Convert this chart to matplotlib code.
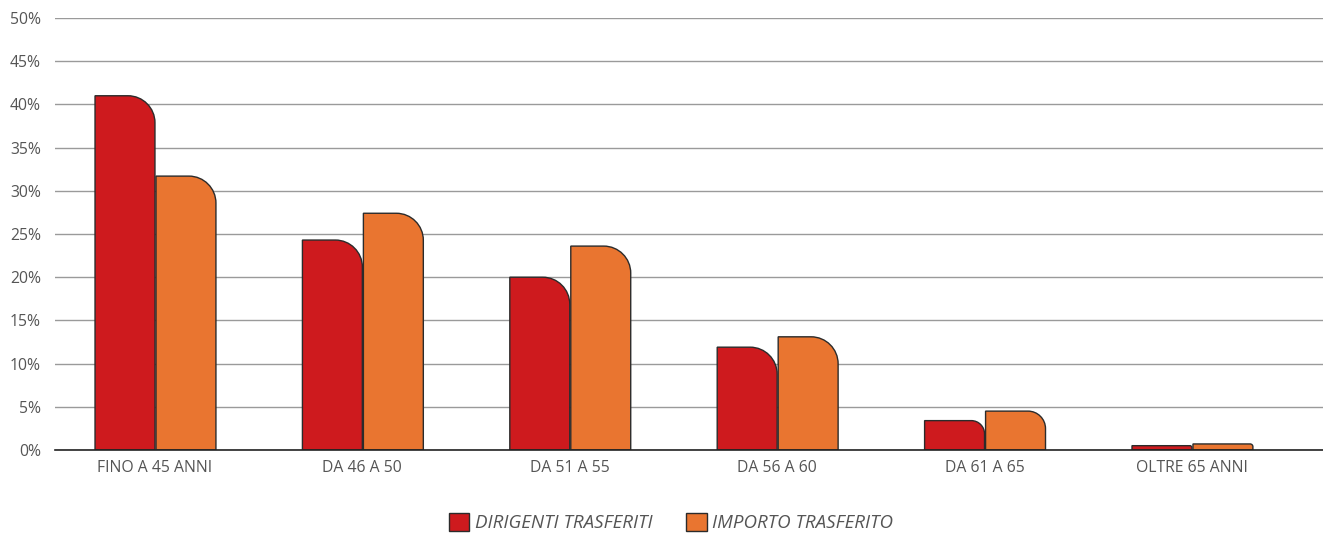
import matplotlib.pyplot as plt
from matplotlib.path import Path
from matplotlib.patches import PathPatch, Patch

categories = ['FINO A 45 ANNI', 'DA 46 A 50', 'DA 51 A 55', 'DA 56 A 60', 'DA 61 A 65', 'OLTRE 65 ANNI']
dirigenti = [41.0, 24.3, 20.0, 11.9, 3.4, 0.5]
importo = [31.7, 27.4, 23.6, 13.1, 4.5, 0.7]
series_names = ['DIRIGENTI TRASFERITI', 'IMPORTO TRASFERITO']
yticks = [0, 5, 10, 15, 20, 25, 30, 35, 40, 45, 50]

RED = '#ce1a1e'
ORANGE = '#e97530'
EDGE = '#2b2b2b'
TEXT = '#555555'

plt.rcParams['font.family'] = ['Open Sans', 'DejaVu Sans']

W, H = 1323, 533
fig = plt.figure(figsize=(W / 100, H / 100), dpi=100)
ax = fig.add_axes([55 / W, (H - 450) / H, 1268 / W, 432 / H])

x_lo, x_hi = -0.482, 5.632
ax.set_xlim(x_lo, x_hi)
ax.set_ylim(0, 50)
px_x = 1268 / (x_hi - x_lo)
px_y = 432 / 50

bar_w = 0.289
K = 0.5523


def rounded_bar(x0, h, color):
    # bar with rounded top-right corner, radius given in pixels
    h_px = h * px_y
    r = min(27, h_px * 0.45)
    rx = r / px_x
    ry = r / px_y
    x1 = x0 + bar_w
    verts = [
        (x0, 0), (x0, h), (x1 - rx, h),
        (x1 - rx + K * rx, h), (x1, h - ry + K * ry), (x1, h - ry),
        (x1, 0), (x0, 0),
    ]
    codes = [Path.MOVETO, Path.LINETO, Path.LINETO,
             Path.CURVE4, Path.CURVE4, Path.CURVE4,
             Path.LINETO, Path.CLOSEPOLY]
    patch = PathPatch(Path(verts, codes), facecolor=color, edgecolor=EDGE,
                      linewidth=1.0, zorder=3)
    ax.add_patch(patch)


for i in range(len(categories)):
    rounded_bar(i - bar_w, dirigenti[i], RED)
    rounded_bar(i + 0.005, importo[i], ORANGE)

ax.set_yticks(yticks)
ax.set_yticklabels([f'{v}%' for v in yticks])
ax.set_xticks(range(len(categories)))
ax.set_xticklabels(categories)
ax.tick_params(axis='both', length=0, labelsize=11.3, labelcolor=TEXT)
ax.tick_params(axis='y', pad=10)
ax.tick_params(axis='x', pad=7)

ax.yaxis.grid(True, color='#9a9a9a', linewidth=1.0)
ax.set_axisbelow(True)
for s in ['top', 'right', 'left']:
    ax.spines[s].set_visible(False)
ax.spines['bottom'].set_color('#222222')
ax.spines['bottom'].set_linewidth(1.2)
ax.spines['bottom'].set_zorder(4)

handles = [Patch(facecolor=RED, edgecolor=EDGE), Patch(facecolor=ORANGE, edgecolor=EDGE)]
leg = fig.legend(handles, series_names, loc='upper center', bbox_to_anchor=(671 / W, 1 - 498 / H),
                 ncol=2, frameon=False, prop={'style': 'italic', 'size': 13.5},
                 handlelength=1.1, handleheight=1.1, handletextpad=0.3, columnspacing=1.8,
                 borderpad=0.3)
for t in leg.get_texts():
    t.set_color(TEXT)

fig.savefig('out.png', dpi=100)
